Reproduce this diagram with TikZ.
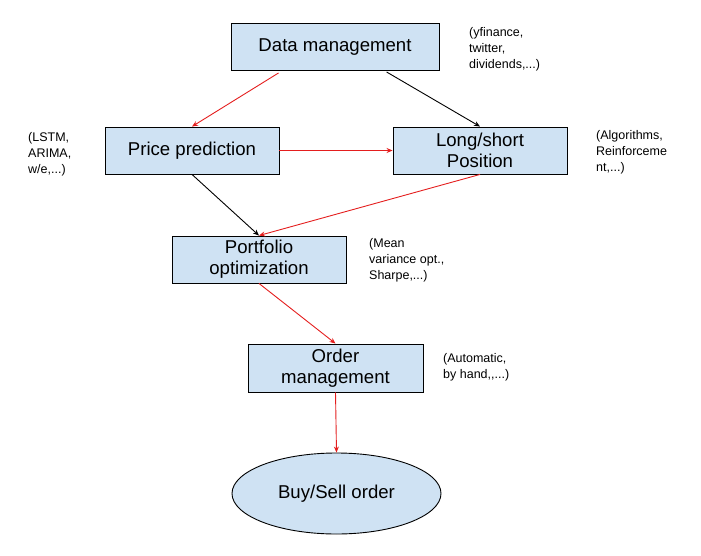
\documentclass[tikz,border=0pt]{standalone}
\usepackage{fontspec}
\setmainfont[Ligatures=NoCommon]{Liberation Sans}
\usetikzlibrary{arrows.meta,shapes.geometric}
\definecolor{boxfill}{HTML}{CFE2F3}
\definecolor{arrred}{RGB}{228,30,30}
\tikzset{
  box/.style={draw=black, fill=boxfill, line width=0.9pt, inner sep=0pt, align=center,
    font=\fontsize{18.6}{21}\selectfont},
  oval/.style={ellipse, draw=black, fill=boxfill, line width=0.9pt, inner sep=0pt,
    font=\fontsize{18.6}{21}\selectfont},
  note/.style={anchor=north west, inner sep=0pt, align=left,
    font=\fontsize{12.5}{16.2}\selectfont},
  redarr/.style={draw=arrred, line width=0.9pt, -{Stealth[length=6pt,width=5pt]}},
  blackarr/.style={draw=black, line width=0.9pt, -{Stealth[length=6pt,width=5pt]}},
}
\begin{document}
\begin{tikzpicture}[x=1pt,y=-1pt]
\useasboundingbox (0,0) rectangle (701,556);
\node[box, minimum width=208pt, minimum height=47pt] (dm) at (335,47) {Data management};
\node[box, minimum width=174pt, minimum height=47pt] (pp) at (192,150.5) {Price prediction};
\node[box, minimum width=174pt, minimum height=47pt] (ls) at (480,150.5) {Long/short\\Position};
\node[box, minimum width=174pt, minimum height=47pt] (po) at (259,259.5) {Portfolio\\optimization};
\node[box, minimum width=175pt, minimum height=48pt] (om) at (335.5,368) {Order\\management};
\node[oval, minimum width=209pt, minimum height=81pt] (bs) at (336.5,493.5) {Buy/Sell order};

\node[note] (n1) at (469,27) {(yfinance,\\twitter,\\dividends,...)};
\node[note] (n2) at (28,132) {(LSTM,\\ARIMA,\\w/e,...)};
\node[note] (n3) at (596,130) {(Algorithms,\\Reinforceme\\nt,...)};
\node[note] (n4) at (369,238) {(Mean\\variance opt.,\\Sharpe,...)};
\node[note] (n5) at (443,353) {(Automatic,\\by hand,\kern0pt,...)};

\draw[redarr] ([xshift=48pt,yshift=-2pt]dm.south west) -- (pp.north);
\draw[blackarr] ([xshift=156pt,yshift=-1pt]dm.south west) -- (ls.north);
\draw[redarr] (pp.east) -- (ls.west);
\draw[blackarr] (pp.south) -- (po.north);
\draw[redarr] (ls.south) -- (po.north);
\draw[redarr] (po.south) -- (om.north);
\draw[redarr] (om.south) -- (bs.north);
\end{tikzpicture}
\end{document}
